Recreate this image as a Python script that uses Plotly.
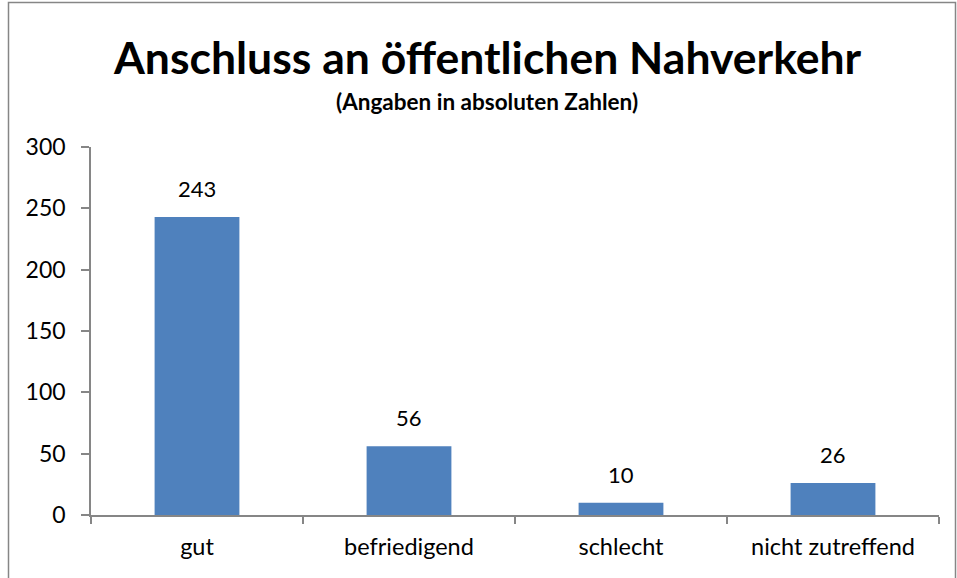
import plotly.graph_objects as go

categories = ["gut", "befriedigend", "schlecht", "nicht zutreffend"]
values = [243, 56, 10, 26]
y_ticks = [0, 50, 100, 150, 200, 250, 300]

W, H = 957, 578
L, R, T, B = 91, 18, 147, 63
pw, ph = W - L - R, H - T - B

FONT = "Lato"

fig = go.Figure()
fig.add_trace(go.Bar(
    x=categories, y=values,
    marker=dict(color="#4F81BD", line=dict(width=0)),
    width=0.4, hoverinfo="skip",
))

for c, v in zip(categories, values):
    fig.add_annotation(x=c, y=v, text=str(v), showarrow=False,
                       yanchor="bottom", yshift=13,
                       font=dict(family=FONT, size=22, color="#000000"))

def px_x(p):
    return (p - L) / pw

def px_y(p):
    return (H - B - p) / ph

fig.add_shape(type="rect", xref="paper", yref="paper",
              x0=px_x(8.5), x1=px_x(955.5), y0=px_y(590), y1=px_y(2.5),
              line=dict(color="#868686", width=1.5), fillcolor="rgba(0,0,0,0)", layer="below")

fig.add_annotation(xref="paper", yref="paper", x=px_x(487), y=px_y(57),
                   text="<b>Anschluss an öffentlichen Nahverkehr</b>", showarrow=False,
                   xanchor="center", yanchor="middle",
                   font=dict(family=FONT, size=44.5, color="#000000"))
fig.add_annotation(xref="paper", yref="paper", x=px_x(487), y=px_y(101),
                   text="<b>(Angaben in absoluten Zahlen)</b>", showarrow=False,
                   xanchor="center", yanchor="middle",
                   font=dict(family=FONT, size=22.5, color="#000000"))

fig.update_layout(
    width=W, height=H,
    margin=dict(l=L, r=R, t=T, b=B, pad=0),
    paper_bgcolor="white", plot_bgcolor="white",
    showlegend=False,
    font=dict(family=FONT, size=23, color="#000000"),
    bargap=0.6,
)
fig.update_xaxes(
    showline=True, linecolor="#868686", linewidth=1.5,
    ticks="outside", ticklen=7, tickcolor="#868686", tickwidth=1.5,
    tickson="boundaries", showgrid=False, zeroline=False,
    tickfont=dict(family=FONT, size=23.5, color="#000000"),
    ticklabelstandoff=10,
)
fig.update_yaxes(
    range=[0, 300], tickvals=y_ticks,
    showline=True, linecolor="#868686", linewidth=1.5,
    ticks="outside", ticklen=8, tickcolor="#868686", tickwidth=1.5,
    showgrid=False, zeroline=False,
    tickfont=dict(family=FONT, size=23, color="#000000"),
    ticklabelstandoff=11,
)

fig.write_html("out.html", config={"displayModeBar": False},
               post_script="document.body.style.margin='0';")
